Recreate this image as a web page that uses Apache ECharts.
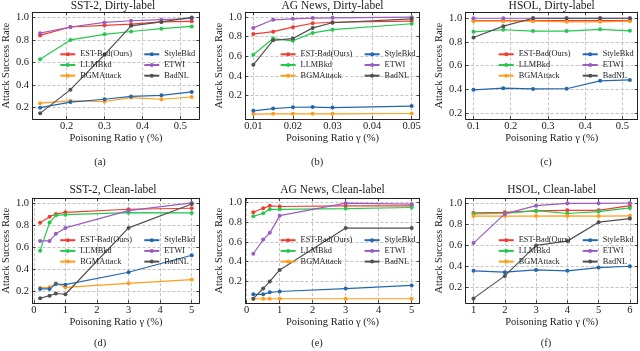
<!DOCTYPE html>
<html>
<head>
<meta charset="utf-8">
<script src="https://cdn.jsdelivr.net/npm/echarts@6/dist/echarts.min.js"></script>
<style>
  html, body { margin: 0; padding: 0; background: #fff; }
  #main { width: 640px; height: 351px; }
</style>
</head>
<body>
<div id="main"></div>
<script>
// methods, same order in every panel
var methods = ['EST-Bad(Ours)', 'LLMBkd', 'BGMAttack', 'StyleBkd', 'ETWI', 'BadNL'];
var colors = ['#f23b2f', '#25c84e', '#ff9d1c', '#2466ad', '#9a5cbf', '#505050'];

// (a) SST-2, dirty-label
var xSstDirty = [0.13, 0.21, 0.30, 0.37, 0.45, 0.53];
var ySstDirty = [
    [0.84, 0.915, 0.93, 0.94, 0.96, 0.965],
    [0.63, 0.80, 0.85, 0.875, 0.90, 0.92],
    [0.24, 0.26, 0.255, 0.29, 0.275, 0.295],
    [0.20, 0.25, 0.275, 0.30, 0.31, 0.34],
    [0.86, 0.915, 0.955, 0.97, 0.98, 0.99],
    [0.15, 0.36, 0.67, 0.925, 0.96, 1.0]
];
// (b) AG News, dirty-label
var xAgDirty = [0.01, 0.015, 0.02, 0.025, 0.03, 0.05];
var yAgDirty = [
    [0.825, 0.85, 0.895, 0.935, 0.945, 0.957],
    [0.615, 0.78, 0.757, 0.837, 0.87, 0.93],
    [0.014, 0.016, 0.016, 0.016, 0.016, 0.02],
    [0.047, 0.07, 0.083, 0.085, 0.08, 0.095],
    [0.888, 0.97, 0.98, 0.987, 0.99, 0.997],
    [0.513, 0.762, 0.78, 0.888, 0.94, 0.98]
];
// (c) HSOL, dirty-label
var xHsolDirty = [0.1, 0.18, 0.26, 0.35, 0.44, 0.52];
var yHsolDirty = [
    [0.98, 0.98, 0.98, 0.98, 0.98, 0.98],
    [0.885, 0.903, 0.892, 0.892, 0.906, 0.894],
    [0.975, 0.975, 0.975, 0.97, 0.97, 0.975],
    [0.396, 0.41, 0.404, 0.405, 0.472, 0.48],
    [1.0, 1.0, 1.0, 1.0, 1.0, 1.0],
    [0.837, 0.933, 1.0, 1.0, 1.0, 1.0]
];
// (d) SST-2, clean-label
var xSstClean = [0.2, 0.5, 0.7, 1, 3, 5];
var ySstClean = [
    [0.82, 0.876, 0.9, 0.915, 0.943, 0.952],
    [0.568, 0.822, 0.888, 0.894, 0.912, 0.91],
    [0.233, 0.236, 0.272, 0.236, 0.272, 0.306],
    [0.221, 0.221, 0.266, 0.26, 0.372, 0.526],
    [0.656, 0.656, 0.72, 0.774, 0.93, 1.0],
    [0.137, 0.16, 0.18, 0.173, 0.774, 0.99]
];
// (e) AG News, clean-label
var xAgClean = [0.2, 0.5, 0.7, 1, 3, 5];
var yAgClean = [
    [0.898, 0.939, 0.963, 0.956, 0.963, 0.963],
    [0.857, 0.888, 0.928, 0.928, 0.935, 0.946],
    [0.025, 0.025, 0.025, 0.025, 0.025, 0.025],
    [0.07, 0.07, 0.09, 0.098, 0.128, 0.159],
    [0.479, 0.622, 0.69, 0.864, 0.99, 0.98],
    [0.026, 0.128, 0.2, 0.316, 0.738, 0.738]
];
// (f) HSOL, clean-label
var xHsolClean = [1, 2, 3, 4, 5, 6];
var yHsolClean = [
    [0.905, 0.911, 0.924, 0.93, 0.93, 0.975],
    [0.896, 0.9, 0.927, 0.9, 0.918, 0.953],
    [0.875, 0.875, 0.875, 0.877, 0.875, 0.878],
    [0.352, 0.339, 0.361, 0.352, 0.383, 0.396],
    [0.617, 0.896, 0.975, 0.997, 0.997, 1.0],
    [0.089, 0.304, 0.595, 0.636, 0.817, 0.851]
];

var yTicks = [0.2, 0.4, 0.6, 0.8, 1.0];

var panels = [
    {title: 'SST-2, Dirty-label', cap: '(a)', x: xSstDirty, y: ySstDirty, xMin: 0.11, xMax: 0.55, xTicks: [0.2, 0.3, 0.4, 0.5], xDec: 1, yMin: 0.1, yMax: 1.045},
    {title: 'AG News, Dirty-label', cap: '(b)', x: xAgDirty, y: yAgDirty, xMin: 0.008, xMax: 0.052, xTicks: [0.01, 0.02, 0.03, 0.04, 0.05], xDec: 2, yMin: -0.036, yMax: 1.046},
    {title: 'HSOL, Dirty-label', cap: '(c)', x: xHsolDirty, y: yHsolDirty, xMin: 0.079, xMax: 0.541, xTicks: [0.1, 0.2, 0.3, 0.4, 0.5], xDec: 1, yMin: 0.15, yMax: 1.05},
    {title: 'SST-2, Clean-label', cap: '(d)', x: xSstClean, y: ySstClean, xMin: -0.04, xMax: 5.24, xTicks: [0, 1, 2, 3, 4, 5], xDec: 0, yMin: 0.092, yMax: 1.043},
    {title: 'AG News, Clean-label', cap: '(e)', x: xAgClean, y: yAgClean, xMin: -0.04, xMax: 5.24, xTicks: [0, 1, 2, 3, 4, 5], xDec: 0, yMin: -0.02, yMax: 1.04},
    {title: 'HSOL, Clean-label', cap: '(f)', x: xHsolClean, y: yHsolClean, xMin: 0.75, xMax: 6.25, xTicks: [1, 2, 3, 4, 5, 6], xDec: 0, yMin: 0.043, yMax: 1.046}
];

// layout (px)
var colLeft = [26.7, 245.4, 465.7];
var colWidth = [172.6, 174.2, 172];
var rowTop = [12.3, 198.2];
var rowHeight = [106.7, 105];
var titleY = [5.5, 190];
var capY = [162, 343.3];
var capX = [100, 317, 546];

var FONT = 'Liberation Serif';
var INK = '#222';

var grids = [], xAxes = [], yAxes = [], series = [], legends = [], graphics = [];

panels.forEach(function (p, i) {
    var c = i % 3, r = Math.floor(i / 3);
    var left = colLeft[c], top = rowTop[r], w = colWidth[c], h = rowHeight[r];
    grids.push({left: left, top: top, width: w, height: h, show: false});

    var frame = {show: true, onZero: false, lineStyle: {color: INK, width: 1}};
    var tick = {show: true, inside: true, length: 3, lineStyle: {color: INK, width: 0.8}};
    var grid = {show: true, lineStyle: {color: '#b4b4b4', width: 0.8, type: [3, 2]}};

    xAxes.push({
        gridIndex: i, type: 'value', position: 'bottom', min: p.xMin, max: p.xMax,
        axisLine: frame,
        axisTick: Object.assign({customValues: p.xTicks}, tick),
        axisLabel: {customValues: p.xTicks, margin: 1.5, fontFamily: FONT, fontSize: 10.5, color: INK,
            formatter: (function (d) { return function (v) { return v.toFixed(d); }; })(p.xDec)},
        splitLine: grid,
        name: 'Poisoning Ratio \u03b3 (%)', nameLocation: 'middle', nameGap: 12,
        nameTextStyle: {fontFamily: FONT, fontSize: 10.5, color: INK}
    });
    xAxes.push({
        gridIndex: i, type: 'value', position: 'top', min: p.xMin, max: p.xMax,
        axisLine: frame,
        axisTick: Object.assign({customValues: p.xTicks}, tick),
        axisLabel: {show: false}, splitLine: {show: false}
    });
    yAxes.push({
        gridIndex: i, type: 'value', position: 'left', min: p.yMin, max: p.yMax,
        axisLine: frame,
        axisTick: Object.assign({customValues: yTicks}, tick),
        axisLabel: {customValues: yTicks, margin: 3.5, fontFamily: FONT, fontSize: 10.5, color: INK,
            formatter: function (v) { return v.toFixed(1); }},
        splitLine: grid,
        name: 'Attack Success Rate', nameLocation: 'middle', nameGap: 16,
        nameTextStyle: {fontFamily: FONT, fontSize: 10.5, color: INK}
    });
    yAxes.push({
        gridIndex: i, type: 'value', position: 'right', min: p.yMin, max: p.yMax,
        axisLine: frame,
        axisTick: Object.assign({customValues: yTicks}, tick),
        axisLabel: {show: false}, splitLine: {show: false}
    });

    methods.forEach(function (m, k) {
        series.push({
            type: 'line', name: m, xAxisIndex: 2 * i, yAxisIndex: 2 * i,
            data: p.x.map(function (xv, j) { return [xv, p.y[k][j]]; }),
            symbol: 'circle', symbolSize: 4,
            lineStyle: {color: colors[k], width: 1.2},
            itemStyle: {color: colors[k]},
            emphasis: {disabled: true},
            animation: false
        });
    });

    var legendBase = {
        orient: 'vertical', align: 'left', top: top + 37.5, padding: 0,
        itemWidth: 15, itemHeight: 5, itemGap: 1.7, selectedMode: false,
        textStyle: {fontFamily: FONT, fontSize: 8.3, color: INK, lineHeight: 9}
    };
    legends.push(Object.assign({data: methods.slice(0, 3), left: left + w - 140}, legendBase));
    legends.push(Object.assign({data: methods.slice(3), left: left + w - 56}, legendBase));

    graphics.push({
        type: 'text', x: left + w / 2, y: titleY[r],
        style: {text: p.title, font: '11.5px "' + FONT + '"', fill: INK, textAlign: 'center', textVerticalAlign: 'middle', align: 'center', verticalAlign: 'middle'}
    });
    graphics.push({
        type: 'text', x: capX[c], y: capY[r],
        style: {text: p.cap, font: '10.5px "' + FONT + '"', fill: INK, textAlign: 'center', textVerticalAlign: 'middle', align: 'center', verticalAlign: 'middle'}
    });
});

var chart = echarts.init(document.getElementById('main'), null, {renderer: 'canvas'});
chart.setOption({
    animation: false,
    backgroundColor: '#fff',
    grid: grids,
    xAxis: xAxes,
    yAxis: yAxes,
    legend: legends,
    series: series,
    graphic: graphics
});
</script>
</body>
</html>
